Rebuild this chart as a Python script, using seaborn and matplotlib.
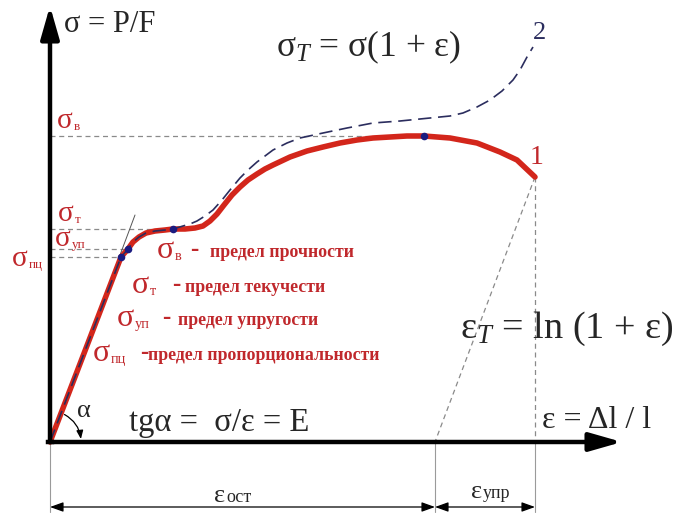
import matplotlib
matplotlib.use("Agg")
import matplotlib.pyplot as plt
from matplotlib.patches import FancyArrowPatch
import seaborn as sns

# Engineering stress-strain curve (1) and true stress curve (2), arbitrary units
eng_eps = [0, 71, 78, 83, 89, 96, 105, 115, 123, 135, 145, 153, 160, 167, 174,
           182, 190, 198, 207, 215, 223, 240, 257, 273, 290, 307, 323, 340, 357,
           374, 400, 427, 450, 467, 485]
eng_sig = [0, 185, 193, 200, 205, 209, 211, 212, 213, 213, 214, 216, 221, 228, 237,
           247, 255, 262, 268, 273, 277, 285, 291, 295, 299, 302, 304, 305, 306,
           306, 304, 299, 290, 282, 265]

true_eps = [0, 71, 78, 83, 89, 96, 105, 115, 123, 133, 140, 147, 155, 163, 172,
            180, 190, 198, 207, 215, 223, 237, 250, 273, 297, 323, 350, 380, 400,
            413, 427, 440, 452, 463, 470, 477, 483]
true_sig = [0, 185, 193, 200, 205, 209, 211, 212, 213, 216, 218, 221, 226, 232, 242,
            252, 264, 272, 280, 286, 292, 299, 304, 309, 314, 319, 321, 324, 326,
            329, 335, 342, 351, 362, 372, 385, 395]

# Characteristic points: proportional limit, elastic limit, yield, ultimate strength
key_eps = [71, 78, 123, 374]
key_sig = [185, 193, 213, 306]
level_names = ["пц", "уп", "т", "в"]

# Strain at fracture and residual strain after elastic unloading
eps_fracture = 485
sig_fracture = 265
eps_residual = 385

legend_subs = ["в", "т", "уп", "пц"]
legend_texts = ["предел прочности", "предел текучести", "предел упругости",
                "предел пропорциональности"]

sns.set_style("white")
plt.rcParams["font.family"] = ["Liberation Serif", "DejaVu Serif"]
plt.rcParams["mathtext.fontset"] = "custom"
plt.rcParams["mathtext.rm"] = "Liberation Serif"
plt.rcParams["mathtext.it"] = "Liberation Serif:italic"

RED = "#d3261b"
TXT_RED = "#c0282c"
NAVY = "#2b2d5e"
DOT = "#1b1b80"
GUIDE = "#8a8a8a"

fig = plt.figure(figsize=(6.93, 5.13), dpi=100)
ax = fig.add_axes([0, 0, 1, 1])
ax.set_xlim(-50, 643)
ax.set_ylim(-71, 442)
ax.axis("off")

# guide lines to the stress levels
for e, s in zip(key_eps, key_sig):
    ax.plot([0, e], [s, s], color=GUIDE, lw=0.9, ls=(0, (4, 3)), zorder=1)

# tangent to the elastic part
ax.plot([0, 85], [0, 227], color="#555555", lw=0.7, zorder=2)

# unloading line and fracture strain
ax.plot([eps_fracture, eps_residual], [sig_fracture, 0], color=GUIDE, lw=0.9,
        ls=(0, (4, 3)), zorder=1)
ax.plot([eps_fracture, eps_fracture], [sig_fracture, 0], color=GUIDE, lw=0.9,
        ls=(0, (4, 3)), zorder=1)

# dimension extension lines
for e in [0, eps_residual, eps_fracture]:
    ax.plot([e, e], [0, -70], color="#9a9a9a", lw=0.8, zorder=1)

# curves
sns.lineplot(x=eng_eps, y=eng_sig, sort=False, estimator=None, ax=ax,
             color=RED, lw=4.0, zorder=3, solid_capstyle="round",
             solid_joinstyle="round")
sns.lineplot(x=true_eps, y=true_sig, sort=False, estimator=None, ax=ax,
             color=NAVY, lw=1.2, linestyle=(0, (8, 4)), zorder=4)
sns.scatterplot(x=key_eps, y=key_sig, ax=ax, color=DOT, s=30, linewidth=0,
                zorder=5)

# coordinate axes
for tip in [(0, 436), (572, 0)]:
    ax.add_patch(FancyArrowPatch((0, 0), tip,
                                 arrowstyle="-|>,head_length=0.7,head_width=0.2",
                                 mutation_scale=28, lw=3.2, color="black",
                                 shrinkA=0, shrinkB=0, zorder=6))
ax.plot([-2, 2], [0, 0], color="black", lw=3.2, solid_capstyle="projecting", zorder=6)

# dimension arrows
for a, b in [(0, eps_residual), (eps_residual, eps_fracture)]:
    ax.add_patch(FancyArrowPatch((a, -65), (b, -65),
                                 arrowstyle="<|-|>,head_length=0.5,head_width=0.18",
                                 mutation_scale=16, lw=0.9, color="black",
                                 shrinkA=0, shrinkB=0, zorder=6))

# angle alpha
ax.add_patch(FancyArrowPatch((14.5, 27.5), (30.9, 3.0),
                             connectionstyle="arc3,rad=-0.25",
                             arrowstyle="-|>,head_length=0.5,head_width=0.2",
                             mutation_scale=10, lw=0.9, color="black",
                             shrinkA=0, shrinkB=0, zorder=6))

SERIF = ["Liberation Serif", "DejaVu Serif"]

ax.text(14, 418, "σ = P/F", fontsize=22, family=SERIF, va="center", ha="left")
ax.text(226, 395, r"$\mathrm{σ}_{T}$ = σ(1 + ε)", fontsize=25.5, family=SERIF,
        va="center", ha="left")
ax.text(410, 113, r"$\mathrm{ε}_{T}$ = ln (1 + ε)", fontsize=27.5, family=SERIF,
        va="center", ha="left")
ax.text(492, 21, "ε = Δl / l", fontsize=23, family=SERIF, va="center", ha="left")
ax.text(79, 19, "tgα =  σ/ε = E", fontsize=23.5, family=SERIF, va="center",
        ha="left")
ax.text(34, 31, "α", fontsize=19, family=SERIF, va="center", ha="center")
ax.text(487, 285, "1", fontsize=20, family=SERIF, color=TXT_RED, va="center",
        ha="center")
ax.text(489, 409, "2", fontsize=19, family=SERIF, color=NAVY, va="center",
        ha="center")

# strain components
ax.text(175, -60, "ε", fontsize=19, family=SERIF, va="baseline", ha="right")
ax.text(176, -60, "ост", fontsize=13, family=SERIF, va="baseline", ha="left")
ax.text(432, -56, "ε", fontsize=19, family=SERIF, va="baseline", ha="right")
ax.text(433, -56, "упр", fontsize=13, family=SERIF, va="baseline", ha="left")


def sigma_label(x, y, sub, size=21):
    ax.text(x, y, "σ", fontsize=size, family=SERIF, color=TXT_RED,
            va="baseline", ha="left")
    ax.text(x + size * 0.78, y - 2, sub, fontsize=size * 0.45, family=SERIF,
            color=TXT_RED, va="baseline", ha="left")


# stress level labels on the axis
level_pos = [(-38, 176), (5, 196), (8, 221), (7, 314)]
for (x, y), sub in zip(level_pos, level_names):
    sigma_label(x, y, sub)

# legend of the limits
row_pos = [(107, 184), (82, 149), (67, 116), (43, 81)]
dash_x = [140, 122, 112, 90]
text_x = [160, 135, 128, 98]
for (x, y), sub, dx, tx, label in zip(row_pos, legend_subs, dash_x, text_x,
                                      legend_texts):
    sigma_label(x, y, sub, size=23)
    ax.text(dx, y + 2, "-", fontsize=18, family=SERIF, color=TXT_RED,
            va="baseline", ha="left", weight="bold")
    ax.text(tx, y + 1, label, fontsize=12.8, family=SERIF, color=TXT_RED,
            va="baseline", ha="left", weight="bold")

fig.savefig("out.png", dpi=100)
